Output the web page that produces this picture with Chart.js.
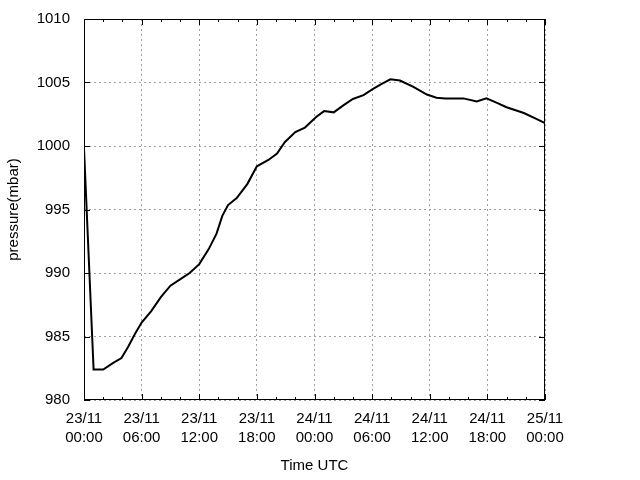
<!DOCTYPE html>
<html>
<head>
<meta charset="utf-8">
<script src="https://cdn.jsdelivr.net/npm/chart.js@4/dist/chart.umd.min.js"></script>
<style>
  html, body { margin: 0; padding: 0; background: #fff; }
  #wrap { width: 640px; height: 480px; }
</style>
</head>
<body>
<div id="wrap"><canvas id="pressure_chart" width="640" height="480"></canvas></div>
<script>
// hours since 23/11 00:00 UTC
const hours = [0, 1, 2, 3, 3.9, 4.6, 5.3, 6, 7, 8, 9, 10, 11, 12, 13, 13.8, 14.4, 15, 15.9, 17,
  18, 19.2, 20.1, 20.9, 22, 23, 24.2, 25, 26, 27, 28, 29.1, 30.1, 31, 31.9, 32.9, 34.3, 35.7,
  36.7, 37.6, 39.5, 40.9, 41.9, 43, 44, 45.8, 47.2, 48]
const pressure = [999.8, 982.4, 982.4, 982.9, 983.3, 984.2, 985.2, 986.1, 987.0, 988.1, 989.0,
  989.5, 990.0, 990.7, 991.9, 993.1, 994.5, 995.35, 995.9, 997.0, 998.4, 998.9, 999.4, 1000.3,
  1001.1, 1001.45, 1002.3, 1002.75, 1002.65, 1003.2, 1003.7, 1004.0, 1004.5, 1004.9, 1005.25,
  1005.15, 1004.65, 1004.05, 1003.8, 1003.75, 1003.75, 1003.5, 1003.75, 1003.4, 1003.05,
  1002.6, 1002.1, 1001.8]
const xTickLabels = ['23/11\n00:00', '23/11\n06:00', '23/11\n12:00', '23/11\n18:00',
  '24/11\n00:00', '24/11\n06:00', '24/11\n12:00', '24/11\n18:00', '25/11\n00:00']
const yTicks = [980, 985, 990, 995, 1000, 1005, 1010]

const font = { family: "'Liberation Sans', Arial, sans-serif", size: 15, lineHeight: 1.3 }

// frame + inward ticks, gnuplot style
const frame = {
  id: 'frame',
  afterDraw(chart) {
    const { ctx, chartArea: a, scales: { x, y } } = chart
    ctx.save()
    ctx.strokeStyle = '#000'
    ctx.lineWidth = 1
    ctx.strokeRect(a.left + 0.5, a.top + 0.5, a.right - a.left - 1, a.bottom - a.top - 1)
    ctx.beginPath()
    for (let h = 0; h <= 48; h += 2) {
      const px = Math.round(x.getPixelForValue(h)) + 0.5
      const len = h % 6 === 0 ? 6 : 3
      ctx.moveTo(px, a.bottom); ctx.lineTo(px, a.bottom - len)
      ctx.moveTo(px, a.top); ctx.lineTo(px, a.top + len)
    }
    yTicks.forEach(v => {
      const py = Math.round(y.getPixelForValue(v)) + 0.5
      ctx.moveTo(a.left, py); ctx.lineTo(a.left + 6, py)
      ctx.moveTo(a.right, py); ctx.lineTo(a.right - 6, py)
    })
    ctx.stroke()
    ctx.restore()
  }
}

new Chart(document.getElementById('pressure_chart'), {
  type: 'line',
  data: {
    datasets: [{
      data: hours.map((h, i) => ({ x: h, y: pressure[i] })),
      borderColor: '#000',
      borderWidth: 2,
      pointRadius: 0,
      tension: 0,
      fill: false
    }]
  },
  options: {
    responsive: false,
    animation: false,
    events: [],
    layout: { padding: { top: 19, right: 95, left: 0, bottom: 0 } },
    plugins: { legend: { display: false }, tooltip: { enabled: false } },
    scales: {
      x: {
        type: 'linear',
        min: 0, max: 48,
        afterBuildTicks: s => { s.ticks = xTickLabels.map((_, i) => ({ value: i * 6 })) },
        afterFit: s => { s.height = 80; s.paddingLeft = 0; s.paddingRight = 0 },
        ticks: {
          color: '#000', font, padding: 9, maxRotation: 0, autoSkip: false,
          callback: (v, i) => xTickLabels[i].split('\n')
        },
        grid: { color: '#a0a0a0', drawTicks: false, lineWidth: 1 },
        border: { display: false, dash: [2, 3] },
        title: { display: true, text: 'Time UTC', color: '#000', font, padding: { top: 8 } }
      },
      y: {
        min: 980, max: 1010,
        afterBuildTicks: s => { s.ticks = yTicks.map(v => ({ value: v })) },
        afterFit: s => { s.width = 84; s.paddingTop = 0; s.paddingBottom = 0 },
        ticks: { color: '#000', font, padding: 14, callback: v => String(v) },
        grid: { color: '#a0a0a0', drawTicks: false, lineWidth: 1 },
        border: { display: false, dash: [2, 3] },
        title: { display: true, text: 'pressure(mbar)', color: '#000', font, padding: { top: 4 } }
      }
    }
  },
  plugins: [frame]
})
</script>
</body>
</html>
